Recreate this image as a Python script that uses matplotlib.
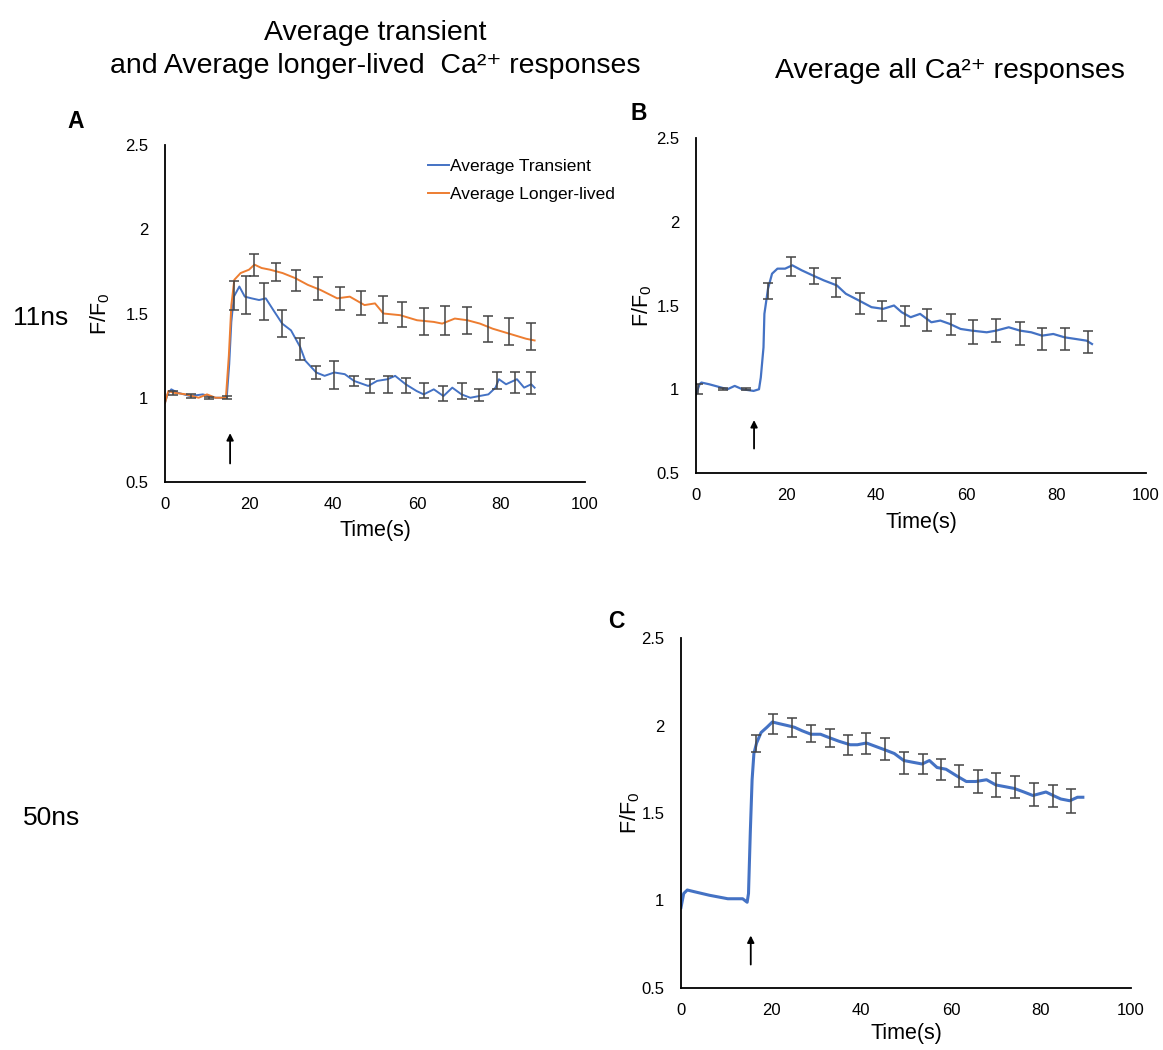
# Average Ca2+ responses, 11ns and 50ns pulses
import numpy as np
import matplotlib.pyplot as plt

plt.rcParams['font.family'] = ['Liberation Sans', 'DejaVu Sans']
plt.rcParams['mathtext.fontset'] = 'custom'
plt.rcParams['mathtext.rm'] = 'Liberation Sans'
plt.rcParams['mathtext.it'] = 'Liberation Sans:italic'

# ---- data ----
# Panel A, average transient (blue)
a_tr_t = [0, 0.6, 1.5, 3, 6, 9, 12, 14.7, 15.3, 15.8, 16.4, 17.7, 19, 20.6, 22.4, 24,
          25.8, 27.9, 30, 32.2, 33.4, 36, 38, 40.3, 42.8, 45, 48.4, 50.5, 53, 54.8,
          57.3, 59.9, 61.6, 64, 66.3, 68.4, 70.6, 72.7, 74.8, 77, 78.7, 79.5, 81.2,
          83.8, 85.5, 87.2, 88]
a_tr_v = [0.97, 1.02, 1.05, 1.03, 1.01, 1.02, 1.0, 1.0, 1.2, 1.45, 1.6, 1.66, 1.6, 1.59,
          1.58, 1.59, 1.52, 1.44, 1.4, 1.3, 1.22, 1.15, 1.13, 1.15, 1.14, 1.1, 1.07, 1.1,
          1.11, 1.13, 1.08, 1.04, 1.02, 1.05, 1.01, 1.06, 1.02, 1.0, 1.01, 1.02, 1.06,
          1.11, 1.08, 1.11, 1.06, 1.08, 1.06]
a_tr_err_t = [1.9, 6.1, 10.4, 14.7, 16.4, 19.4, 23.6, 27.9, 32.2, 36, 40.3, 45, 48.8, 53,
              57.3, 61.6, 66.3, 70.6, 74.8, 79.1, 83.4, 87.2]
a_tr_err_v = [1.03, 1.01, 1.0, 1.0, 1.606, 1.61, 1.57, 1.44, 1.29, 1.15, 1.135, 1.1, 1.07,
              1.08, 1.075, 1.045, 1.025, 1.04, 1.015, 1.1, 1.09, 1.085]
a_tr_err = [0.012, 0.01, 0.006, 0.01, 0.085, 0.11, 0.11, 0.08, 0.065, 0.04, 0.085, 0.03,
            0.04, 0.05, 0.045, 0.045, 0.047, 0.05, 0.035, 0.05, 0.06, 0.065]

# Panel A, average longer-lived (orange)
a_ll_t = [0, 0.8, 2, 5, 8, 10, 12, 14.5, 15.2, 15.8, 16.5, 18, 20, 21.3, 23, 25, 28, 31,
          34, 37, 41, 44, 47.5, 50, 52, 56, 60, 64, 66, 69, 72, 75, 78, 82, 86, 88]
a_ll_v = [0.97, 1.04, 1.03, 1.02, 1.0, 1.02, 1.0, 1.0, 1.25, 1.55, 1.7, 1.74, 1.76, 1.79,
          1.77, 1.76, 1.74, 1.71, 1.67, 1.64, 1.59, 1.6, 1.55, 1.56, 1.5, 1.49, 1.46, 1.45,
          1.44, 1.47, 1.46, 1.44, 1.41, 1.38, 1.35, 1.34]
a_ll_err_t = [21.3, 26.5, 31.3, 36.4, 41.6, 46.7, 51.8, 56.5, 61.6, 66.7, 71.8, 77, 82, 87.2]
a_ll_err_v = [1.786, 1.746, 1.696, 1.648, 1.588, 1.564, 1.522, 1.496, 1.452, 1.458, 1.458,
              1.408, 1.394, 1.362]
a_ll_err = [0.065, 0.055, 0.065, 0.07, 0.07, 0.07, 0.08, 0.075, 0.08, 0.085, 0.08, 0.08,
            0.08, 0.08]

# Panel B, all responses 11ns
b_t = [0, 0.8, 1.2, 2.9, 7, 8.6, 10.3, 12.8, 14, 14.4, 15, 15.2, 16, 16.9, 18.1, 19.8,
       21.4, 23.5, 25.9, 28.4, 31.3, 33.3, 36.2, 39, 41.6, 44, 45.7, 47.7, 49.8, 52.3,
       54.3, 56.4, 58.8, 61.3, 64.6, 66.7, 69.5, 72, 74.5, 76.9, 79.4, 81.9, 84.4, 86.8, 88]
b_v = [0.97, 1.03, 1.04, 1.03, 1.0, 1.02, 1.0, 0.99, 1.0, 1.07, 1.25, 1.45, 1.6, 1.69,
       1.72, 1.72, 1.74, 1.71, 1.68, 1.65, 1.62, 1.57, 1.53, 1.49, 1.48, 1.5, 1.46, 1.43,
       1.45, 1.4, 1.41, 1.39, 1.36, 1.35, 1.34, 1.35, 1.37, 1.35, 1.34, 1.32, 1.33, 1.31,
       1.3, 1.29, 1.27]
b_err_t = [0.4, 6, 11, 16, 21.2, 26.2, 31.1, 36.4, 41.4, 46.5, 51.4, 56.6, 61.5, 66.7,
           71.9, 76.8, 81.9, 87]
b_err_v = [1.0, 1.0, 1.0, 1.586, 1.732, 1.676, 1.61, 1.514, 1.466, 1.436, 1.412, 1.388,
           1.342, 1.352, 1.334, 1.302, 1.302, 1.282]
b_err = [0.03, 0.005, 0.005, 0.05, 0.055, 0.05, 0.057, 0.063, 0.06, 0.06, 0.065, 0.062,
         0.07, 0.07, 0.068, 0.065, 0.065, 0.065]

# Panel C, all responses 50ns
c_t = [0, 0.6, 1.4, 3, 6.3, 10.4, 13.7, 14.7, 15, 15.4, 15.8, 16.2, 16.8, 17.8, 19.1,
       20.3, 21.9, 23.6, 25.2, 26.9, 28.9, 31, 33, 35.1, 37.6, 39.2, 41.2, 43.3, 45.4,
       47.4, 49.5, 51.5, 53.6, 55.2, 56.9, 58.9, 61.4, 63.4, 65.5, 67.9, 70, 72.1, 74.1,
       76.2, 78.2, 81.1, 82.7, 84.4, 86.4, 88.1, 89.3]
c_v = [0.96, 1.04, 1.06, 1.05, 1.03, 1.01, 1.01, 0.99, 1.04, 1.39, 1.69, 1.84, 1.9, 1.96,
       1.99, 2.02, 2.01, 2.0, 1.99, 1.97, 1.95, 1.95, 1.93, 1.91, 1.89, 1.89, 1.9, 1.88,
       1.86, 1.84, 1.8, 1.79, 1.78, 1.8, 1.76, 1.75, 1.71, 1.68, 1.68, 1.69, 1.66, 1.65,
       1.64, 1.62, 1.6, 1.62, 1.6, 1.58, 1.57, 1.59, 1.59]
c_err_t = [16.7, 20.5, 24.7, 28.8, 33, 37.1, 41.2, 45.4, 49.5, 53.7, 57.8, 61.8, 65.9,
           70.1, 74.3, 78.5, 82.6, 86.7]
c_err_v = [1.895, 2.01, 1.988, 1.954, 1.929, 1.887, 1.898, 1.866, 1.785, 1.78, 1.749,
           1.711, 1.682, 1.661, 1.649, 1.605, 1.596, 1.569]
c_err = [0.048, 0.057, 0.056, 0.05, 0.053, 0.056, 0.06, 0.061, 0.062, 0.057, 0.059,
         0.064, 0.065, 0.068, 0.064, 0.064, 0.064, 0.067]

# stimulus arrows (time, bottom, top) for A, B, C
arrow_t = [15.5, 12.9, 15.5]
arrow_lo = [0.61, 0.646, 0.634]
arrow_hi = [0.79, 0.816, 0.80]

blue = '#4472C4'
orange = '#ED7D31'
ebar = '#444444'

W, H = 1163, 1050
fig = plt.figure(figsize=(W / 100, H / 100), dpi=100)


def px_axes(left, top, right, bottom):
    # axes box from pixel edges
    return fig.add_axes([left / W, 1 - bottom / H, (right - left) / W, (bottom - top) / H])


def style(ax):
    ax.set_xlim(0, 100)
    ax.set_ylim(0.5, 2.5)
    ax.set_xticks([0, 20, 40, 60, 80, 100])
    ax.set_yticks([0.5, 1, 1.5, 2, 2.5])
    ax.set_yticklabels(['0.5', '1', '1.5', '2', '2.5'])
    ax.spines['top'].set_visible(False)
    ax.spines['right'].set_visible(False)
    ax.spines['left'].set_linewidth(1.3)
    ax.spines['bottom'].set_linewidth(1.3)
    ax.tick_params(axis='x', length=0, pad=11, labelsize=12)
    ax.tick_params(axis='y', length=0, pad=12, labelsize=12)
    ax.set_xlabel('Time(s)', fontsize=15.5)
    ax.set_ylabel('F/F$_0$', fontsize=15.5)


axA = px_axes(165, 145, 585, 482)
axB = px_axes(696, 138, 1146, 473)
axC = px_axes(681, 638, 1131, 988)

# A
axA.plot(a_tr_t, a_tr_v, color=blue, lw=1.4, label='Average Transient')
axA.plot(a_ll_t, a_ll_v, color=orange, lw=1.4, label='Average Longer-lived')
axA.errorbar(a_tr_err_t, a_tr_err_v, yerr=a_tr_err, fmt='none', ecolor=ebar,
             elinewidth=1.1, capsize=3.5, capthick=1.1)
axA.errorbar(a_ll_err_t, a_ll_err_v, yerr=a_ll_err, fmt='none', ecolor=ebar,
             elinewidth=1.1, capsize=3.5, capthick=1.1)
style(axA)
axA.xaxis.set_label_coords(0.5, -0.112)
axA.yaxis.set_label_coords(-0.126, 0.5)
axA.legend(loc='upper left', bbox_to_anchor=(419 / W, 1 - 150 / H),
           bbox_transform=fig.transFigure, frameon=False, fontsize=12.5,
           handlelength=1.2, handletextpad=0.08, labelspacing=0.75, borderpad=0)

# B
axB.plot(b_t, b_v, color=blue, lw=1.6)
axB.errorbar(b_err_t, b_err_v, yerr=b_err, fmt='none', ecolor=ebar,
             elinewidth=1.1, capsize=3.5, capthick=1.1)
style(axB)
axB.xaxis.set_label_coords(0.5, -0.115)
axB.yaxis.set_label_coords(-0.093, 0.5)

# C
axC.plot(c_t, c_v, color=blue, lw=2.2)
axC.errorbar(c_err_t, c_err_v, yerr=c_err, fmt='none', ecolor=ebar,
             elinewidth=1.1, capsize=3.5, capthick=1.1)
style(axC)
axC.xaxis.set_label_coords(0.5, -0.1)
axC.yaxis.set_label_coords(-0.087, 0.5)

# stimulus arrows
for ax, t, lo, hi in zip([axA, axB, axC], arrow_t, arrow_lo, arrow_hi):
    ax.annotate('', xy=(t, hi), xytext=(t, lo),
                arrowprops=dict(arrowstyle='-|>', color='black', lw=1.3,
                                mutation_scale=10, shrinkA=0, shrinkB=0))

# titles and labels
fig.text(375 / W, 1 - 40 / H, 'Average transient', ha='center', va='baseline', fontsize=20.5)
fig.text(375 / W, 1 - 73 / H, 'and Average longer-lived  Ca²⁺ responses',
         ha='center', va='baseline', fontsize=20.5)
fig.text(950 / W, 1 - 78 / H, 'Average all Ca²⁺ responses', ha='center', va='baseline',
         fontsize=20.5)
fig.text(41 / W, 1 - 318 / H, '11ns', ha='center', va='center', fontsize=19)
fig.text(52 / W, 1 - 818 / H, '50ns', ha='center', va='center', fontsize=19)
fig.text(76 / W, 1 - 121 / H, 'A', ha='center', va='center', fontsize=16.5, fontweight='bold')
fig.text(639 / W, 1 - 113 / H, 'B', ha='center', va='center', fontsize=16.5, fontweight='bold')
fig.text(616 / W, 1 - 621 / H, 'C', ha='center', va='center', fontsize=16.5, fontweight='bold')

fig.savefig('out.png', dpi=100)
